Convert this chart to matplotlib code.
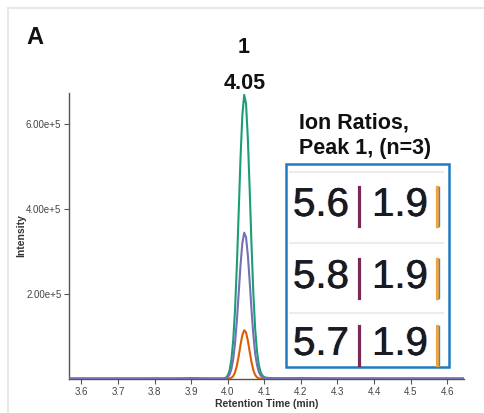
import matplotlib
matplotlib.use("Agg")
import matplotlib.pyplot as plt
import matplotlib.patheffects as pe
import numpy as np
from matplotlib.patches import Rectangle
from matplotlib.ticker import FuncFormatter

# ---------------- data ----------------
time_min = [3.566, 3.60, 3.65, 3.70, 3.75, 3.80, 3.85, 3.88, 3.90, 3.92, 3.95, 3.98,
            3.990, 3.995, 4.000, 4.005, 4.010, 4.015, 4.020, 4.025, 4.030, 4.035,
            4.040, 4.045, 4.050, 4.055, 4.060, 4.065, 4.070, 4.075, 4.080, 4.085,
            4.090, 4.095, 4.100, 4.105, 4.110, 4.12, 4.14, 4.16, 4.18, 4.20, 4.25,
            4.30, 4.35, 4.40, 4.45, 4.50, 4.55, 4.60, 4.646]

# intensities in units of 1e5 counts
green_e5 = [0.010, 0.012, 0.010, 0.011, 0.010, 0.012, 0.010, 0.014, 0.022, 0.015, 0.011, 0.010,
            0.012, 0.030, 0.082, 0.202, 0.452, 0.907, 1.641, 2.676, 3.932, 5.209,
            6.216, 6.686, 6.480, 5.660, 4.460, 3.160, 2.020, 1.180, 0.650, 0.330,
            0.160, 0.080, 0.045, 0.032, 0.026, 0.022, 0.018, 0.016, 0.020, 0.024, 0.015,
            0.012, 0.011, 0.012, 0.010, 0.011, 0.010, 0.011, 0.010]
purple_e5 = [0.010, 0.010, 0.011, 0.010, 0.010, 0.011, 0.010, 0.011, 0.013, 0.011, 0.010, 0.010,
             0.010, 0.016, 0.042, 0.104, 0.233, 0.467, 0.845, 1.378, 2.025, 2.682,
             3.201, 3.443, 3.337, 2.915, 2.297, 1.627, 1.040, 0.600, 0.335, 0.165,
             0.080, 0.040, 0.022, 0.016, 0.013, 0.012, 0.011, 0.011, 0.012, 0.012, 0.011,
             0.010, 0.010, 0.011, 0.010, 0.010, 0.010, 0.010, 0.010]
orange_e5 = [0.006, 0.006, 0.006, 0.006, 0.006, 0.006, 0.006, 0.006, 0.007, 0.006, 0.006, 0.006,
             0.006, 0.006, 0.008, 0.014, 0.030, 0.067, 0.156, 0.312, 0.539, 0.804,
             1.034, 1.147, 1.097, 0.905, 0.644, 0.395, 0.209, 0.095, 0.040, 0.016,
             0.009, 0.007, 0.006, 0.006, 0.006, 0.006, 0.006, 0.006, 0.006, 0.006, 0.006,
             0.006, 0.006, 0.006, 0.006, 0.006, 0.006, 0.006, 0.006]

x_ticks = [3.6, 3.7, 3.8, 3.9, 4.0, 4.1, 4.2, 4.3, 4.4, 4.5, 4.6]
y_ticks = [2e5, 4e5, 6e5]

peak_label = "1"
peak_rt = "4.05"
ratio_title = ["Ion Ratios,", "Peak 1, (n=3)"]
ratio_first = ["5.6", "5.8", "5.7"]
ratio_second = ["1.9", "1.9", "1.9"]

# ---------------- figure ----------------
W, H = 484, 413
fig = plt.figure(figsize=(W / 100, H / 100), dpi=100)
fig.patch.set_facecolor("white")
FONT = "Liberation Sans"


def fx(px):
    return px / W


def fy(py):
    return 1 - py / H


# faint outer panel border
fig.add_artist(plt.Line2D([fx(8), fx(484)], [fy(8), fy(8)], color="#e4e4e4", lw=1.2,
                          transform=fig.transFigure))
fig.add_artist(plt.Line2D([fx(8), fx(8)], [fy(8), fy(413)], color="#e4e4e4", lw=1.2,
                          transform=fig.transFigure))

ax_l, ax_r, ax_t, ax_b = 69, 464, 93, 379
ax = fig.add_axes([fx(ax_l), fy(ax_b), fx(ax_r - ax_l), (ax_b - ax_t) / H])

t = np.array(time_min)
scale = 1e5
ax.plot(t, np.array(green_e5) * scale, color="#1b9e77", lw=1.5, zorder=3)
ax.plot(t, np.array(orange_e5) * scale, color="#d95f02", lw=1.5, zorder=4)
ax.plot(t, np.array(purple_e5) * scale, color="#7570b3", lw=1.5, zorder=5)

ax.set_xlim(3.566, 4.646)
ax.set_ylim(0, 6.73e5)
ax.set_xticks(x_ticks)
ax.set_xticklabels([f"{v:.1f}" for v in x_ticks])
ax.set_yticks(y_ticks)
ax.yaxis.set_major_formatter(FuncFormatter(lambda v, p: f"{v / 1e5:.2f}e+5"))

for s in ["top", "right"]:
    ax.spines[s].set_visible(False)
for s in ["left", "bottom"]:
    ax.spines[s].set_color("#555555")
    ax.spines[s].set_linewidth(1.0)
ax.tick_params(axis="both", direction="out", length=3.5, width=0.8, color="#555555",
               labelsize=7, labelcolor="#444444", pad=2)
for lab in ax.get_xticklabels() + ax.get_yticklabels():
    lab.set_family(FONT)

ax.set_xlabel("Retention Time (min)", fontsize=7.5, fontweight="bold", family=FONT,
              color="#333333", labelpad=1.5)
ax.set_ylabel("Intensity", fontsize=7.5, fontweight="bold", family=FONT,
              color="#333333", labelpad=0)
ax.patch.set_alpha(0)

# header texts
fig.text(fx(26), fy(44), "A", fontsize=17, fontweight="bold", family=FONT,
         color="#111111", ha="left", va="baseline")
fig.text(fx(244), fy(53), peak_label, fontsize=15.5, fontweight="bold", family=FONT,
         color="#111111", ha="center", va="baseline")
fig.text(fx(245), fy(89), peak_rt, fontsize=15.5, fontweight="bold", family=FONT,
         color="#111111", ha="center", va="baseline")
fig.text(fx(299), fy(128), ratio_title[0], fontsize=15.5, fontweight="bold",
         family=FONT, color="#111111", ha="left", va="baseline")
fig.text(fx(299), fy(154), ratio_title[1], fontsize=15.5, fontweight="bold",
         family=FONT, color="#111111", ha="left", va="baseline")

# ion ratio box
bx0, by0, bx1, by1 = 286, 164, 449, 367
fig.add_artist(Rectangle((fx(bx0), fy(by1)), fx(bx1 - bx0), (by1 - by0) / H,
                         transform=fig.transFigure, facecolor="white",
                         edgecolor="#1f7cc1", lw=1.8, zorder=10))
for sep in [172, 243, 313]:
    fig.add_artist(plt.Line2D([fx(bx0 + 4), fx(bx1 - 6)], [fy(sep), fy(sep)],
                              color="#ececec", lw=1.5, transform=fig.transFigure, zorder=11))

fringe = [
    pe.withSimplePatchShadow(offset=(-0.7, 0), shadow_rgbFace="#e08a2a", alpha=0.6),
    pe.withSimplePatchShadow(offset=(0.7, 0), shadow_rgbFace="#3a7fd0", alpha=0.6),
    pe.Normal(),
]

row_base = [216, 288, 355]
for i, yb in enumerate(row_base):
    for txt, x0 in [(ratio_first[i], 293), (ratio_second[i], 372)]:
        fig.text(fx(x0), fy(yb), txt, fontsize=29, family=FONT, color="#1a1a22",
                 ha="left", va="baseline", zorder=12, path_effects=fringe)
    # separator bars
    fig.add_artist(plt.Line2D([fx(359), fx(359)], [fy(yb - 29), fy(yb + 10)],
                              color="#7b2a55", lw=2.3, transform=fig.transFigure, zorder=12))
    fig.add_artist(plt.Line2D([fx(437), fx(437)], [fy(yb - 29), fy(yb + 10)],
                              color="#f2a33a", lw=2.3, transform=fig.transFigure, zorder=12))
    fig.add_artist(plt.Line2D([fx(438.6), fx(438.6)], [fy(yb - 29), fy(yb + 10)],
                              color="#3a8fd0", lw=1.0, transform=fig.transFigure, zorder=12))

fig.savefig("out.png", dpi=100)
